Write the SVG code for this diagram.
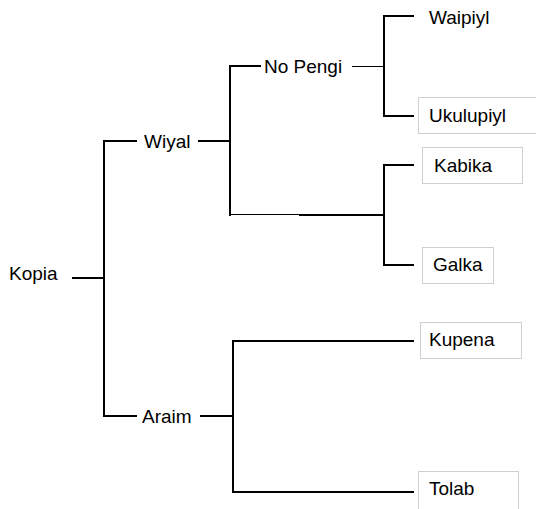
<svg xmlns="http://www.w3.org/2000/svg" width="536" height="509" viewBox="0 0 536 509">
  <style>
    .lbl { font-family: "Liberation Sans", Arial, sans-serif; font-size: 19px; fill: #000; }
    .box { fill: #fff; stroke: #cfcfcf; stroke-width: 1; }
    .ln { fill: none; stroke: #000; stroke-width: 2; stroke-linecap: square; }
    .thin { fill: none; stroke: #000; stroke-width: 1; }
  </style>
  <rect width="536" height="509" fill="#fff"/>

  <!-- connectors -->
  <g id="connectors">
    <!-- Kopia -->
    <path class="ln" d="M73 278 H104 M136 141 H104 V416 H136"/>
    <!-- Wiyal -->
    <path class="ln" d="M199 141 H229 M260 66 H230 V215"/>
    <path class="thin" d="M230 214.5 H300"/>
    <path class="ln" d="M300 215 H384"/>
    <!-- No Pengi -->
    <path class="thin" d="M352 66.5 H383"/>
    <path class="ln" d="M413 16 H384 V116 H413"/>
    <!-- Kabika / Galka -->
    <path class="ln" d="M413 165 H384 V265 H413"/>
    <!-- Araim -->
    <path class="ln" d="M201 416 H233 M413 341 H233 V492 H413"/>
  </g>

  <g id="kopia"><text class="lbl" x="9" y="280">Kopia</text></g>
  <g id="wiyal"><text class="lbl" x="144" y="148">Wiyal</text></g>
  <g id="araim"><text class="lbl" x="142" y="423">Araim</text></g>
  <g id="nopengi"><text class="lbl" x="264" y="73">No Pengi</text></g>
  <g id="waipiyl"><text class="lbl" x="429" y="24">Waipiyl</text></g>
  <g id="ukulupiyl">
    <rect class="box" x="418.5" y="97.5" width="125" height="36"/>
    <text class="lbl" x="429" y="122">Ukulupiyl</text>
  </g>
  <g id="kabika">
    <rect class="box" x="422.5" y="147.5" width="100" height="36"/>
    <text class="lbl" x="434" y="172">Kabika</text>
  </g>
  <g id="galka">
    <rect class="box" x="422.5" y="247.5" width="71" height="36"/>
    <text class="lbl" x="433" y="271">Galka</text>
  </g>
  <g id="kupena">
    <rect class="box" x="420.5" y="322.5" width="101" height="36"/>
    <text class="lbl" x="429" y="346">Kupena</text>
  </g>
  <g id="tolab">
    <rect class="box" x="418.5" y="471.5" width="100" height="45"/>
    <text class="lbl" x="429" y="495">Tolab</text>
  </g>
</svg>
